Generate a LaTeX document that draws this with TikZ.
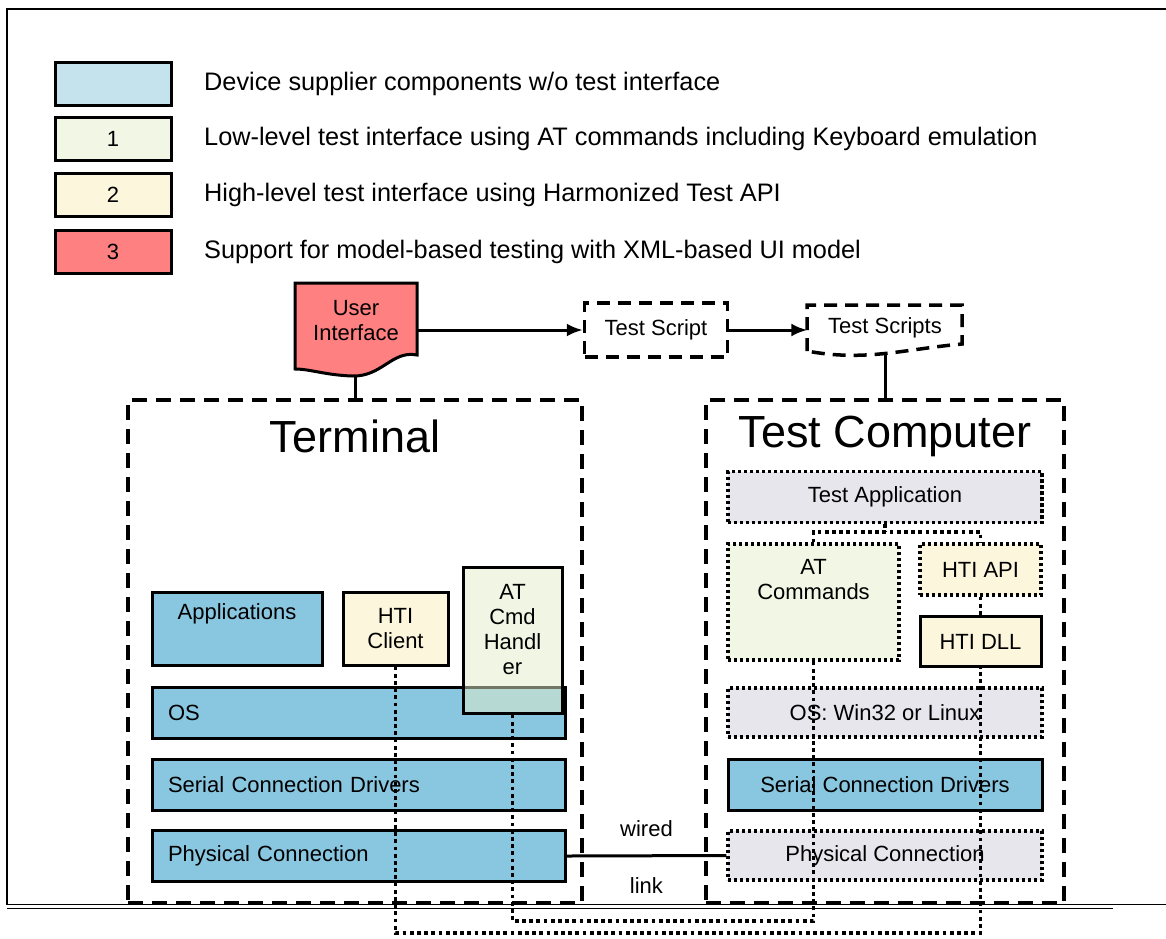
\documentclass[tikz,border=0pt]{standalone}
\usepackage{fontspec}
\setmainfont{Liberation Sans}
\usetikzlibrary{arrows.meta,positioning}

\definecolor{azzChiaro}{RGB}{197,227,236}
\definecolor{azzurro}{RGB}{137,198,224}
\definecolor{verdino}{RGB}{242,246,228}
\definecolor{verdeAT}{RGB}{229,237,201}
\definecolor{giallino}{RGB}{252,247,220}
\definecolor{rosso}{RGB}{255,128,128}
\definecolor{grigino}{RGB}{230,230,236}

\begin{document}
\begin{tikzpicture}[x=1pt, y=-1pt,
    font=\fontsize{22}{25}\selectfont,
    box/.style={draw, line width=3pt, inner sep=0pt, align=center},
    dotbox/.style={draw, line width=3.2pt, dash pattern=on 3.2pt off 2.8pt, inner sep=0pt, align=center},
    cont/.style={draw, line width=4pt, dash pattern=on 15pt off 9pt, inner sep=0pt},
    dotline/.style={line width=3.8pt, dash pattern=on 3.8pt off 3.4pt},
    freccia/.style={line width=3pt, -{Latex[length=16pt,width=13pt]}},
    layer/.style={box, minimum width=413, minimum height=51, text width=381, align=left}
]

% Sfondo e cornice
\fill[white] (0,0) rectangle (1166,938);
\useasboundingbox (0,0) rectangle (1166,938);
\draw[line width=2.5pt] (1166,9) -- (7,9) -- (7,905); % Bordo alto e sinistro
\draw[line width=1.5pt] (7,904.5) -- (1166,904.5); % Bordo basso
\draw[line width=1pt] (7,908) -- (1113,908); % Seconda riga

% Legenda
\foreach \i/\y/\col/\num/\txt in {1/83.5/azzChiaro/{}/{Device supplier components w/o test interface},
    2/139/verdino/1/{Low-level test interface using AT commands including Keyboard emulation},
    3/195/giallino/2/{High-level test interface using Harmonized Test API},
    4/252/rosso/3/{Support for model-based testing with XML-based UI model}} {
    \node[box, fill=\col, minimum width=116, minimum height=43] (leg\i) at (113,\y) {\num}; % Riquadro colore
    \node[anchor=west, inner sep=0pt, font=\fontsize{25.3}{30}\selectfont] (legtxt\i) at (204,\y) {\txt}; % Descrizione
}

% User Interface (documento)
\draw[line width=3pt, fill=rosso] (295,283) -- (417,283) -- (417,355)
    .. controls (392,350) and (382,377) .. (352,376)
    .. controls (325,375) and (310,369) .. (295,369) -- cycle;
\node[inner sep=0pt, align=center, minimum width=122, minimum height=60] (ui) at (356,321) {User\\Interface};
\coordinate (uiB) at (355,375);

% Test Script e Test Scripts
\node[draw, line width=3.5pt, dash pattern=on 13pt off 8pt, minimum width=143, minimum height=54] (ts) at (656,330) {Test Script};
\node[inner sep=0pt, minimum width=155, minimum height=44] (tss) at (885,328) {Test Scripts};
\draw[line width=3.5pt, dash pattern=on 13pt off 8pt] (807,351) -- (807,305) -- (962,305) -- (962,344)
    .. controls (905,349) and (865,362) .. (807,351);
\coordinate (tssB) at (885,353);

% Frecce
\draw[freccia] (ts.west -| ui.east) -- (ts.west);
\draw[freccia] (ts.east) -- (ts.east -| tss.west);

% Contenitori
\node[cont, minimum width=454, minimum height=503] (term) at (355,651.5) {};
\node[font=\fontsize{45}{54}\selectfont] (termT) at (355,436) {Terminal};
\node[cont, minimum width=358, minimum height=503] (tc) at (885,651.5) {};
\node[font=\fontsize{45}{54}\selectfont] (tcT) at (885,436) {Test Computer};

\draw[line width=3pt] (uiB) -- (uiB |- term.north);
\draw[line width=3pt] (tssB) -- (tssB |- tc.north);

% Terminal
\node[box, fill=azzurro, minimum width=170, minimum height=73] (apps) at (237,628.5) {};
\node (appsT) at (237,614) {Applications};
\node[box, fill=giallino, minimum width=105, minimum height=73] (hticl) at (395.5,628.5) {HTI\\Client};
\node[layer, fill=azzurro] (tos) at (358.5,713) {OS};
\node[layer, fill=azzurro] (tser) at (358.5,784.5) {Serial Connection Drivers};
\node[layer, fill=azzurro] (tphys) at (358.5,856) {Physical Connection};
\node[box, fill=verdeAT, fill opacity=0.5, minimum width=99, minimum height=146] (atcmd) at (512.5,640) {};
\node[align=center] (atcmdT) at (512.5,629.5) {AT\\Cmd\\Handl\\er};

% Test Computer
\node[dotbox, fill=grigino, minimum width=314, minimum height=51] (tapp) at (885,497) {Test Application};
\node[dotbox, fill=verdino, minimum width=171, minimum height=116] (atcom) at (813.5,602) {};
\node[align=center] (atcomT) at (813.5,579.5) {AT\\Commands};
\node[dotbox, fill=giallino, minimum width=121, minimum height=51] (htiapi) at (980.5,569.5) {HTI API};
\node[box, fill=giallino, minimum width=121, minimum height=50] (htidll) at (980.5,641.5) {HTI DLL};
\node[dotbox, fill=grigino, minimum width=314, minimum height=49] (cos) at (885,712.5) {OS: Win32 or Linux};
\node[box, fill=azzurro, minimum width=314, minimum height=51] (cser) at (885,784.5) {Serial Connection Drivers};
\node[dotbox, fill=grigino, minimum width=314, minimum height=49] (cphys) at (885,855.5) {Physical Connection};

% Collegamento fisico
\draw[line width=3pt] (tphys.east) -- node[yshift=27pt] (wired) {wired} node[yshift=-30pt] (link) {link} (cphys.west);

% Collegamenti punteggiati
\coordinate (forkTA) at (885,532);
\coordinate (fondoAT) at (0,921);
\coordinate (fondoHTI) at (0,933);
\draw[dotline] (tapp.south) -- (tapp.south |- forkTA);
\draw[dotline] (atcom.north) -- (atcom.north |- forkTA) -- (htiapi.north |- forkTA) -- (htiapi.north);
\draw[dotline] (htiapi.south) -- (htidll.north);
\draw[dotline] (atcmd.south) -- (atcmd.south |- fondoAT) -- (atcom.south |- fondoAT) -- (atcom.south);
\draw[dotline] (hticl.south) -- (hticl.south |- fondoHTI) -- (htidll.south |- fondoHTI) -- (htidll.south);

\end{tikzpicture}
\end{document}
